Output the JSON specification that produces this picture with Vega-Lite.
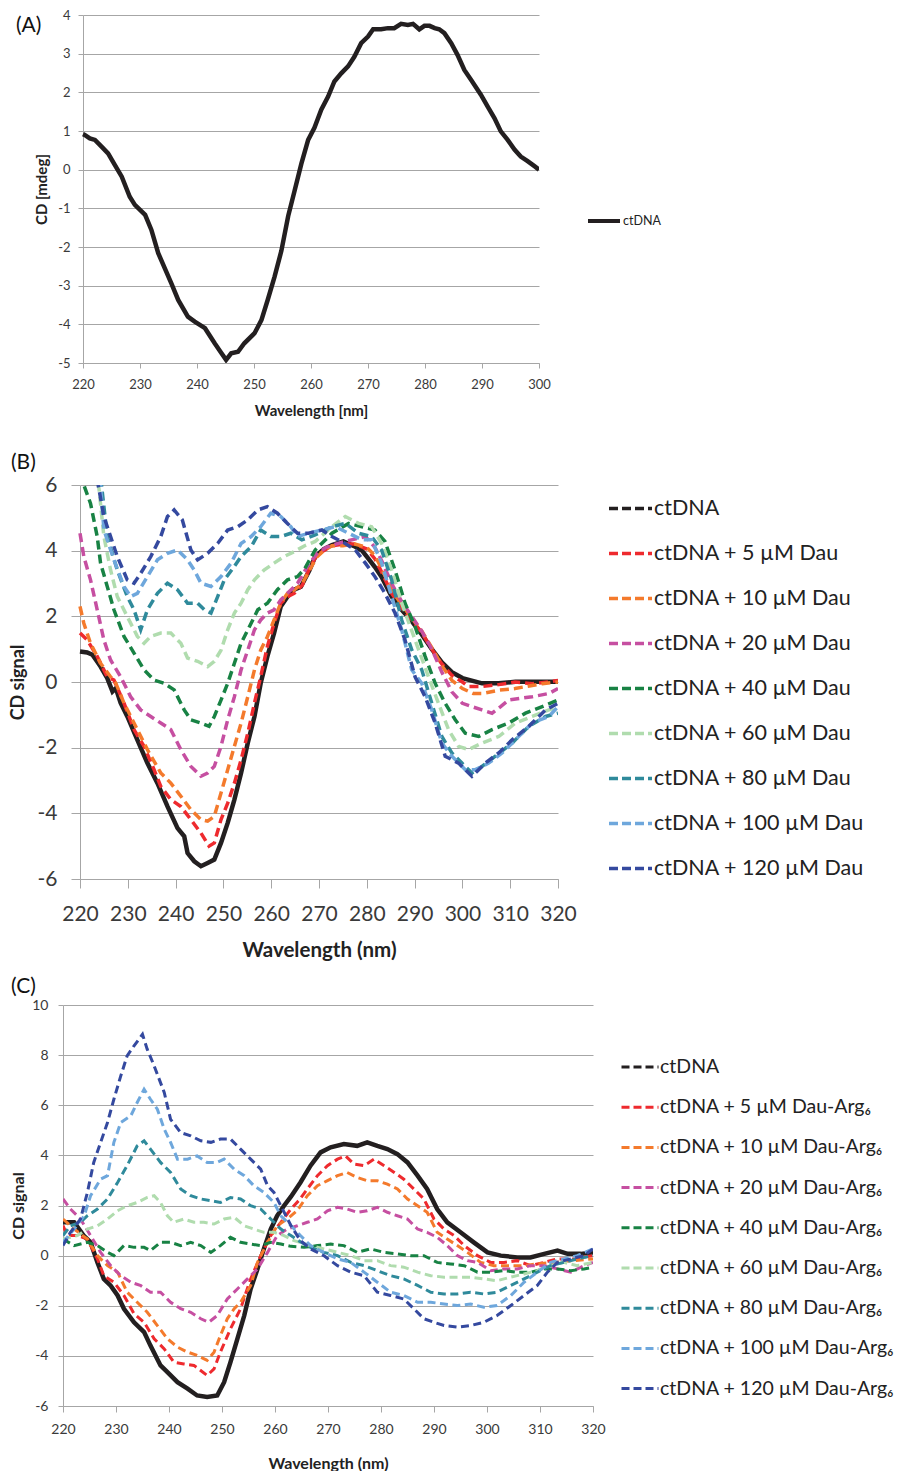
{
"$schema": "https://vega.github.io/schema/vega-lite/v6.json",
"padding": {"left": 9, "top": 9, "right": 0, "bottom": 0},
"background": "white",
"config": {
  "font": "Lato",
  "view": {"stroke": null},
  "axis": {"labelFont": "Lato", "titleFont": "Lato", "domainColor": "#a6a6a6", "tickColor": "#a6a6a6", "gridColor": "#a6a6a6", "labelColor": "#3a3a3a", "titleColor": "#222222", "titleFontWeight": "bold", "labelFlush": false, "labelOverlap": false, "labelExpr": "'' + datum.value"},
  "legend": {"labelFont": "Lato", "labelColor": "#222222"},
  "title": {"font": "Lato", "color": "#111111", "fontWeight": "normal"}
},
"datasets": {
"a": [
{"s":"ctDNA","x":220.0,"y":0.92},{"s":"ctDNA","x":220.3,"y":0.90},{"s":"ctDNA","x":221.2,"y":0.81},{"s":"ctDNA","x":222.1,"y":0.77},{"s":"ctDNA","x":223.3,"y":0.59},{"s":"ctDNA","x":224.4,"y":0.42},{"s":"ctDNA","x":225.6,"y":0.12},{"s":"ctDNA","x":226.8,"y":-0.18},{"s":"ctDNA","x":228.2,"y":-0.70},{"s":"ctDNA","x":229.1,"y":-0.91},{"s":"ctDNA","x":230.9,"y":-1.17},{"s":"ctDNA","x":232.0,"y":-1.56},{"s":"ctDNA","x":233.2,"y":-2.16},{"s":"ctDNA","x":235.5,"y":-2.94},{"s":"ctDNA","x":236.7,"y":-3.37},{"s":"ctDNA","x":238.4,"y":-3.80},{"s":"ctDNA","x":239.6,"y":-3.93},{"s":"ctDNA","x":241.4,"y":-4.10},{"s":"ctDNA","x":243.1,"y":-4.49},{"s":"ctDNA","x":244.3,"y":-4.75},{"s":"ctDNA","x":245.1,"y":-4.92},{"s":"ctDNA","x":246.0,"y":-4.75},{"s":"ctDNA","x":247.2,"y":-4.71},{"s":"ctDNA","x":248.3,"y":-4.49},{"s":"ctDNA","x":250.1,"y":-4.23},{"s":"ctDNA","x":251.3,"y":-3.89},{"s":"ctDNA","x":252.4,"y":-3.37},{"s":"ctDNA","x":253.6,"y":-2.77},{"s":"ctDNA","x":254.8,"y":-2.10},{"s":"ctDNA","x":256.0,"y":-1.20},{"s":"ctDNA","x":257.1,"y":-0.56},{"s":"ctDNA","x":258.3,"y":0.15},{"s":"ctDNA","x":259.5,"y":0.77},{"s":"ctDNA","x":260.6,"y":1.08},{"s":"ctDNA","x":261.8,"y":1.55},{"s":"ctDNA","x":263.0,"y":1.89},{"s":"ctDNA","x":264.1,"y":2.28},{"s":"ctDNA","x":265.3,"y":2.49},{"s":"ctDNA","x":266.5,"y":2.67},{"s":"ctDNA","x":267.6,"y":2.92},{"s":"ctDNA","x":268.8,"y":3.27},{"s":"ctDNA","x":270.0,"y":3.44},{"s":"ctDNA","x":270.9,"y":3.63},{"s":"ctDNA","x":272.3,"y":3.63},{"s":"ctDNA","x":273.5,"y":3.66},{"s":"ctDNA","x":274.6,"y":3.66},{"s":"ctDNA","x":275.8,"y":3.77},{"s":"ctDNA","x":277.0,"y":3.74},{"s":"ctDNA","x":277.9,"y":3.77},{"s":"ctDNA","x":279.0,"y":3.63},{"s":"ctDNA","x":279.9,"y":3.72},{"s":"ctDNA","x":280.8,"y":3.72},{"s":"ctDNA","x":281.7,"y":3.66},{"s":"ctDNA","x":282.5,"y":3.63},{"s":"ctDNA","x":283.4,"y":3.53},{"s":"ctDNA","x":284.6,"y":3.27},{"s":"ctDNA","x":285.7,"y":2.97},{"s":"ctDNA","x":286.9,"y":2.58},{"s":"ctDNA","x":288.1,"y":2.32},{"s":"ctDNA","x":289.8,"y":1.94},{"s":"ctDNA","x":291.0,"y":1.63},{"s":"ctDNA","x":292.2,"y":1.33},{"s":"ctDNA","x":293.3,"y":0.99},{"s":"ctDNA","x":294.5,"y":0.77},{"s":"ctDNA","x":295.7,"y":0.52},{"s":"ctDNA","x":296.8,"y":0.34},{"s":"ctDNA","x":298.0,"y":0.22},{"s":"ctDNA","x":299.2,"y":0.09},{"s":"ctDNA","x":300.0,"y":0.0}
],
"b": [
{"s":"ctDNA","x":220,"y":0.93},{"s":"ctDNA","x":221.5,"y":0.90},{"s":"ctDNA","x":222.6,"y":0.83},{"s":"ctDNA","x":224.3,"y":0.47},{"s":"ctDNA","x":225.7,"y":0.12},{"s":"ctDNA","x":226.8,"y":-0.29},{"s":"ctDNA","x":227.5,"y":-0.19},{"s":"ctDNA","x":228.5,"y":-0.64},{"s":"ctDNA","x":229.9,"y":-1.05},{"s":"ctDNA","x":232.0,"y":-1.76},{"s":"ctDNA","x":234.1,"y":-2.47},{"s":"ctDNA","x":236.2,"y":-3.08},{"s":"ctDNA","x":238.3,"y":-3.79},{"s":"ctDNA","x":240.4,"y":-4.45},{"s":"ctDNA","x":241.8,"y":-4.70},{"s":"ctDNA","x":242.5,"y":-5.21},{"s":"ctDNA","x":243.9,"y":-5.46},{"s":"ctDNA","x":245.3,"y":-5.61},{"s":"ctDNA","x":246.7,"y":-5.51},{"s":"ctDNA","x":248.1,"y":-5.41},{"s":"ctDNA","x":249.5,"y":-4.90},{"s":"ctDNA","x":250.9,"y":-4.29},{"s":"ctDNA","x":252.3,"y":-3.58},{"s":"ctDNA","x":253.7,"y":-2.77},{"s":"ctDNA","x":255.1,"y":-1.86},{"s":"ctDNA","x":256.5,"y":-1.05},{"s":"ctDNA","x":257.8,"y":-0.04},{"s":"ctDNA","x":259.2,"y":0.78},{"s":"ctDNA","x":260.6,"y":1.49},{"s":"ctDNA","x":262.0,"y":2.30},{"s":"ctDNA","x":263.4,"y":2.60},{"s":"ctDNA","x":264.8,"y":2.81},{"s":"ctDNA","x":266.2,"y":2.90},{"s":"ctDNA","x":268.0,"y":3.40},{"s":"ctDNA","x":269.2,"y":3.82},{"s":"ctDNA","x":271.0,"y":4.05},{"s":"ctDNA","x":272.7,"y":4.17},{"s":"ctDNA","x":275.1,"y":4.28},{"s":"ctDNA","x":277.6,"y":4.12},{"s":"ctDNA","x":279.0,"y":4.00},{"s":"ctDNA","x":280.0,"y":3.82},{"s":"ctDNA","x":281.7,"y":3.50},{"s":"ctDNA","x":283.1,"y":3.20},{"s":"ctDNA","x":285.2,"y":2.60},{"s":"ctDNA","x":287.3,"y":2.20},{"s":"ctDNA","x":289.4,"y":1.85},{"s":"ctDNA","x":291.5,"y":1.45},{"s":"ctDNA","x":293.6,"y":1.00},{"s":"ctDNA","x":295.7,"y":0.60},{"s":"ctDNA","x":297.8,"y":0.30},{"s":"ctDNA","x":300.0,"y":0.12},{"s":"ctDNA","x":304.1,"y":-0.04},{"s":"ctDNA","x":307.6,"y":-0.04},{"s":"ctDNA","x":311.1,"y":0.01},{"s":"ctDNA","x":314.6,"y":0.01},{"s":"ctDNA","x":318.1,"y":0.01},{"s":"ctDNA","x":320,"y":0.01},
{"s":"5","x":220,"y":1.49},{"s":"5","x":221.5,"y":1.28},{"s":"5","x":223.6,"y":0.78},{"s":"5","x":225.7,"y":0.16},{"s":"5","x":227.1,"y":0.06},{"s":"5","x":229.2,"y":-0.64},{"s":"5","x":231.3,"y":-1.45},{"s":"5","x":233.4,"y":-1.96},{"s":"5","x":235.5,"y":-2.67},{"s":"5","x":236.9,"y":-3.18},{"s":"5","x":239.0,"y":-3.58},{"s":"5","x":241.1,"y":-3.79},{"s":"5","x":243.2,"y":-4.19},{"s":"5","x":245.3,"y":-4.60},{"s":"5","x":247.0,"y":-5.00},{"s":"5","x":248.1,"y":-4.90},{"s":"5","x":249.5,"y":-4.19},{"s":"5","x":250.9,"y":-3.69},{"s":"5","x":252.3,"y":-3.08},{"s":"5","x":253.7,"y":-2.37},{"s":"5","x":255.1,"y":-1.56},{"s":"5","x":256.5,"y":-0.64},{"s":"5","x":257.8,"y":0.16},{"s":"5","x":259.2,"y":1.08},{"s":"5","x":260.6,"y":1.79},{"s":"5","x":262.0,"y":2.40},{"s":"5","x":263.4,"y":2.60},{"s":"5","x":264.8,"y":2.70},{"s":"5","x":266.5,"y":2.95},{"s":"5","x":268.0,"y":3.45},{"s":"5","x":269.5,"y":3.85},{"s":"5","x":271.0,"y":4.00},{"s":"5","x":272.7,"y":4.15},{"s":"5","x":275.0,"y":4.20},{"s":"5","x":277.5,"y":4.20},{"s":"5","x":280.0,"y":4.05},{"s":"5","x":281.7,"y":3.75},{"s":"5","x":283.1,"y":3.35},{"s":"5","x":285.2,"y":2.70},{"s":"5","x":287.3,"y":2.25},{"s":"5","x":289.4,"y":1.90},{"s":"5","x":291.5,"y":1.50},{"s":"5","x":293.6,"y":1.00},{"s":"5","x":295.7,"y":0.55},{"s":"5","x":297.8,"y":0.20},{"s":"5","x":300.0,"y":0.00},{"s":"5","x":301.3,"y":-0.14},{"s":"5","x":304.0,"y":-0.14},{"s":"5","x":307.6,"y":-0.08},{"s":"5","x":311.0,"y":0.00},{"s":"5","x":314.6,"y":-0.05},{"s":"5","x":318.0,"y":0.00},{"s":"5","x":320,"y":0.05},
{"s":"10","x":220,"y":2.30},{"s":"10","x":220.8,"y":1.79},{"s":"10","x":222.2,"y":1.18},{"s":"10","x":224.3,"y":0.57},{"s":"10","x":226.4,"y":0.16},{"s":"10","x":227.5,"y":-0.04},{"s":"10","x":229.2,"y":-0.64},{"s":"10","x":231.3,"y":-1.25},{"s":"10","x":234.1,"y":-2.06},{"s":"10","x":236.9,"y":-2.77},{"s":"10","x":239.0,"y":-3.08},{"s":"10","x":241.1,"y":-3.48},{"s":"10","x":243.2,"y":-3.89},{"s":"10","x":245.3,"y":-4.19},{"s":"10","x":246.7,"y":-4.24},{"s":"10","x":248.1,"y":-4.09},{"s":"10","x":249.5,"y":-3.38},{"s":"10","x":250.9,"y":-2.67},{"s":"10","x":252.3,"y":-1.96},{"s":"10","x":253.7,"y":-1.25},{"s":"10","x":255.1,"y":-0.45},{"s":"10","x":256.5,"y":0.37},{"s":"10","x":257.8,"y":0.97},{"s":"10","x":259.2,"y":1.38},{"s":"10","x":260.6,"y":1.89},{"s":"10","x":262.0,"y":2.40},{"s":"10","x":263.4,"y":2.70},{"s":"10","x":264.8,"y":2.80},{"s":"10","x":266.5,"y":3.00},{"s":"10","x":268.0,"y":3.40},{"s":"10","x":269.5,"y":3.80},{"s":"10","x":271.0,"y":4.00},{"s":"10","x":272.7,"y":4.15},{"s":"10","x":275.0,"y":4.15},{"s":"10","x":277.5,"y":4.20},{"s":"10","x":280.0,"y":4.10},{"s":"10","x":281.7,"y":3.85},{"s":"10","x":283.1,"y":3.45},{"s":"10","x":285.2,"y":2.80},{"s":"10","x":287.3,"y":2.35},{"s":"10","x":289.4,"y":1.95},{"s":"10","x":291.5,"y":1.55},{"s":"10","x":293.6,"y":1.05},{"s":"10","x":295.7,"y":0.50},{"s":"10","x":297.8,"y":0.05},{"s":"10","x":300.0,"y":-0.20},{"s":"10","x":302.3,"y":-0.35},{"s":"10","x":304.2,"y":-0.35},{"s":"10","x":307.6,"y":-0.25},{"s":"10","x":311.0,"y":-0.20},{"s":"10","x":314.0,"y":-0.12},{"s":"10","x":316.7,"y":-0.05},{"s":"10","x":320,"y":0.00},
{"s":"20","x":220,"y":4.53},{"s":"20","x":220.8,"y":3.82},{"s":"20","x":222.2,"y":3.11},{"s":"20","x":223.6,"y":2.20},{"s":"20","x":225.0,"y":1.28},{"s":"20","x":226.4,"y":0.67},{"s":"20","x":228.5,"y":0.16},{"s":"20","x":230.6,"y":-0.45},{"s":"20","x":232.7,"y":-0.85},{"s":"20","x":234.8,"y":-1.05},{"s":"20","x":236.9,"y":-1.25},{"s":"20","x":239.0,"y":-1.45},{"s":"20","x":241.1,"y":-2.06},{"s":"20","x":243.2,"y":-2.57},{"s":"20","x":245.3,"y":-2.87},{"s":"20","x":246.7,"y":-2.77},{"s":"20","x":248.1,"y":-2.57},{"s":"20","x":249.5,"y":-1.96},{"s":"20","x":250.9,"y":-1.15},{"s":"20","x":252.3,"y":-0.45},{"s":"20","x":253.7,"y":0.37},{"s":"20","x":255.1,"y":0.97},{"s":"20","x":256.5,"y":1.59},{"s":"20","x":257.8,"y":1.89},{"s":"20","x":259.2,"y":2.10},{"s":"20","x":260.6,"y":2.20},{"s":"20","x":262.0,"y":2.50},{"s":"20","x":263.4,"y":2.70},{"s":"20","x":265.5,"y":3.00},{"s":"20","x":267.5,"y":3.50},{"s":"20","x":269.5,"y":3.90},{"s":"20","x":271.5,"y":4.10},{"s":"20","x":273.5,"y":4.20},{"s":"20","x":276.0,"y":4.30},{"s":"20","x":279.7,"y":4.43},{"s":"20","x":281.7,"y":4.10},{"s":"20","x":283.1,"y":3.70},{"s":"20","x":285.2,"y":3.00},{"s":"20","x":287.3,"y":2.45},{"s":"20","x":289.4,"y":2.00},{"s":"20","x":291.5,"y":1.55},{"s":"20","x":293.6,"y":1.00},{"s":"20","x":295.7,"y":0.30},{"s":"20","x":297.8,"y":-0.30},{"s":"20","x":300.0,"y":-0.65},{"s":"20","x":302.0,"y":-0.75},{"s":"20","x":304.1,"y":-0.85},{"s":"20","x":306.2,"y":-0.95},{"s":"20","x":308.0,"y":-0.75},{"s":"20","x":309.7,"y":-0.55},{"s":"20","x":312.0,"y":-0.50},{"s":"20","x":314.6,"y":-0.45},{"s":"20","x":318.1,"y":-0.35},{"s":"20","x":320,"y":-0.20},
{"s":"40","x":220,"y":6.8},{"s":"40","x":220.8,"y":6.0},{"s":"40","x":222.2,"y":5.44},{"s":"40","x":223.6,"y":4.43},{"s":"40","x":224.3,"y":3.62},{"s":"40","x":225.7,"y":2.91},{"s":"40","x":227.1,"y":2.20},{"s":"40","x":229.2,"y":1.39},{"s":"40","x":231.3,"y":0.88},{"s":"40","x":233.4,"y":0.37},{"s":"40","x":235.5,"y":0.06},{"s":"40","x":237.6,"y":-0.04},{"s":"40","x":239.7,"y":-0.24},{"s":"40","x":241.8,"y":-0.85},{"s":"40","x":243.2,"y":-1.15},{"s":"40","x":245.3,"y":-1.25},{"s":"40","x":247.0,"y":-1.35},{"s":"40","x":248.1,"y":-1.05},{"s":"40","x":249.5,"y":-0.55},{"s":"40","x":250.9,"y":-0.04},{"s":"40","x":252.3,"y":0.57},{"s":"40","x":253.7,"y":1.18},{"s":"40","x":255.8,"y":1.79},{"s":"40","x":257.2,"y":2.20},{"s":"40","x":259.2,"y":2.40},{"s":"40","x":261.3,"y":2.81},{"s":"40","x":263.4,"y":3.11},{"s":"40","x":265.5,"y":3.21},{"s":"40","x":267.0,"y":3.45},{"s":"40","x":269.2,"y":4.02},{"s":"40","x":272.7,"y":4.53},{"s":"40","x":276.2,"y":4.83},{"s":"40","x":279.0,"y":4.73},{"s":"40","x":281.7,"y":4.63},{"s":"40","x":283.8,"y":4.28},{"s":"40","x":285.9,"y":3.41},{"s":"40","x":288.0,"y":2.40},{"s":"40","x":290.1,"y":1.69},{"s":"40","x":292.2,"y":0.78},{"s":"40","x":294.3,"y":-0.04},{"s":"40","x":296.4,"y":-0.65},{"s":"40","x":298.5,"y":-1.15},{"s":"40","x":300.6,"y":-1.56},{"s":"40","x":303.4,"y":-1.66},{"s":"40","x":306.2,"y":-1.45},{"s":"40","x":309.7,"y":-1.25},{"s":"40","x":313.2,"y":-0.95},{"s":"40","x":316.7,"y":-0.75},{"s":"40","x":320,"y":-0.55},
{"s":"60","x":220,"y":9.0},{"s":"60","x":223.0,"y":7.0},{"s":"60","x":224.0,"y":5.85},{"s":"60","x":225.0,"y":4.43},{"s":"60","x":226.4,"y":3.41},{"s":"60","x":227.8,"y":2.60},{"s":"60","x":229.9,"y":1.99},{"s":"60","x":232.0,"y":1.39},{"s":"60","x":233.4,"y":1.18},{"s":"60","x":234.8,"y":1.39},{"s":"60","x":236.9,"y":1.49},{"s":"60","x":239.0,"y":1.49},{"s":"60","x":241.1,"y":1.18},{"s":"60","x":242.5,"y":0.73},{"s":"60","x":244.6,"y":0.63},{"s":"60","x":246.7,"y":0.47},{"s":"60","x":248.1,"y":0.63},{"s":"60","x":249.5,"y":0.97},{"s":"60","x":250.9,"y":1.59},{"s":"60","x":252.3,"y":2.10},{"s":"60","x":253.7,"y":2.40},{"s":"60","x":255.1,"y":2.81},{"s":"60","x":256.5,"y":3.11},{"s":"60","x":258.5,"y":3.41},{"s":"60","x":260.6,"y":3.62},{"s":"60","x":262.7,"y":3.82},{"s":"60","x":264.8,"y":3.97},{"s":"60","x":267.0,"y":4.15},{"s":"60","x":269.2,"y":4.28},{"s":"60","x":272.7,"y":4.73},{"s":"60","x":275.5,"y":5.04},{"s":"60","x":278.3,"y":4.83},{"s":"60","x":281.0,"y":4.73},{"s":"60","x":283.1,"y":4.22},{"s":"60","x":285.2,"y":3.41},{"s":"60","x":287.3,"y":2.40},{"s":"60","x":290.1,"y":1.28},{"s":"60","x":292.9,"y":0.16},{"s":"60","x":295.0,"y":-0.65},{"s":"60","x":297.1,"y":-1.45},{"s":"60","x":299.2,"y":-1.96},{"s":"60","x":301.3,"y":-2.06},{"s":"60","x":304.1,"y":-1.86},{"s":"60","x":307.6,"y":-1.66},{"s":"60","x":311.1,"y":-1.25},{"s":"60","x":314.6,"y":-1.05},{"s":"60","x":318.1,"y":-0.85},{"s":"60","x":320,"y":-0.75},
{"s":"80","x":220,"y":10.0},{"s":"80","x":223.5,"y":7.5},{"s":"80","x":224.5,"y":6.0},{"s":"80","x":225.7,"y":4.43},{"s":"80","x":227.8,"y":3.41},{"s":"80","x":229.9,"y":2.60},{"s":"80","x":231.3,"y":2.20},{"s":"80","x":232.7,"y":1.59},{"s":"80","x":234.1,"y":2.20},{"s":"80","x":236.2,"y":2.70},{"s":"80","x":238.3,"y":3.01},{"s":"80","x":240.4,"y":2.81},{"s":"80","x":242.5,"y":2.40},{"s":"80","x":244.6,"y":2.40},{"s":"80","x":246.0,"y":2.20},{"s":"80","x":247.4,"y":2.10},{"s":"80","x":248.8,"y":2.60},{"s":"80","x":250.2,"y":3.11},{"s":"80","x":252.3,"y":3.52},{"s":"80","x":253.7,"y":3.82},{"s":"80","x":255.8,"y":4.12},{"s":"80","x":257.8,"y":4.63},{"s":"80","x":259.9,"y":4.43},{"s":"80","x":262.0,"y":4.43},{"s":"80","x":264.1,"y":4.53},{"s":"80","x":266.4,"y":4.33},{"s":"80","x":269.2,"y":4.48},{"s":"80","x":272.7,"y":4.73},{"s":"80","x":275.5,"y":4.83},{"s":"80","x":278.3,"y":4.53},{"s":"80","x":281.0,"y":4.43},{"s":"80","x":283.1,"y":4.02},{"s":"80","x":285.2,"y":3.11},{"s":"80","x":287.3,"y":1.89},{"s":"80","x":289.4,"y":0.98},{"s":"80","x":291.5,"y":0.37},{"s":"80","x":293.6,"y":-0.65},{"s":"80","x":295.7,"y":-1.66},{"s":"80","x":297.8,"y":-2.16},{"s":"80","x":299.9,"y":-2.47},{"s":"80","x":302.0,"y":-2.77},{"s":"80","x":304.1,"y":-2.57},{"s":"80","x":306.9,"y":-2.26},{"s":"80","x":310.4,"y":-1.86},{"s":"80","x":313.9,"y":-1.35},{"s":"80","x":317.4,"y":-1.05},{"s":"80","x":320,"y":-0.95},
{"s":"100","x":220,"y":10.0},{"s":"100","x":223.5,"y":7.5},{"s":"100","x":224.3,"y":6.0},{"s":"100","x":225.0,"y":4.63},{"s":"100","x":227.1,"y":3.72},{"s":"100","x":229.2,"y":2.91},{"s":"100","x":230.6,"y":2.60},{"s":"100","x":232.0,"y":2.70},{"s":"100","x":234.1,"y":3.21},{"s":"100","x":236.2,"y":3.72},{"s":"100","x":238.3,"y":3.92},{"s":"100","x":240.4,"y":4.02},{"s":"100","x":242.5,"y":3.72},{"s":"100","x":243.9,"y":3.41},{"s":"100","x":245.3,"y":3.01},{"s":"100","x":247.4,"y":2.91},{"s":"100","x":249.5,"y":3.21},{"s":"100","x":251.6,"y":3.62},{"s":"100","x":253.7,"y":4.22},{"s":"100","x":255.8,"y":4.43},{"s":"100","x":257.8,"y":4.73},{"s":"100","x":259.9,"y":5.14},{"s":"100","x":262.0,"y":5.04},{"s":"100","x":264.1,"y":4.73},{"s":"100","x":265.5,"y":4.43},{"s":"100","x":267.8,"y":4.53},{"s":"100","x":270.6,"y":4.63},{"s":"100","x":273.4,"y":4.73},{"s":"100","x":276.2,"y":4.53},{"s":"100","x":279.0,"y":4.33},{"s":"100","x":281.0,"y":4.33},{"s":"100","x":283.1,"y":3.62},{"s":"100","x":285.2,"y":2.60},{"s":"100","x":287.3,"y":1.59},{"s":"100","x":289.4,"y":0.37},{"s":"100","x":291.5,"y":-0.04},{"s":"100","x":293.6,"y":-0.85},{"s":"100","x":295.7,"y":-1.86},{"s":"100","x":297.8,"y":-2.26},{"s":"100","x":300.6,"y":-2.67},{"s":"100","x":302.7,"y":-2.67},{"s":"100","x":305.5,"y":-2.47},{"s":"100","x":308.3,"y":-2.16},{"s":"100","x":311.1,"y":-1.76},{"s":"100","x":314.6,"y":-1.25},{"s":"100","x":318.1,"y":-1.05},{"s":"100","x":320,"y":-0.75},
{"s":"120","x":220,"y":10.0},{"s":"120","x":223.0,"y":7.2},{"s":"120","x":223.8,"y":6.0},{"s":"120","x":225.0,"y":5.04},{"s":"120","x":226.4,"y":4.43},{"s":"120","x":227.8,"y":3.82},{"s":"120","x":229.9,"y":3.11},{"s":"120","x":231.3,"y":3.01},{"s":"120","x":232.7,"y":3.31},{"s":"120","x":234.8,"y":3.82},{"s":"120","x":236.9,"y":4.43},{"s":"120","x":238.3,"y":5.04},{"s":"120","x":239.7,"y":5.24},{"s":"120","x":241.4,"y":4.94},{"s":"120","x":243.2,"y":4.02},{"s":"120","x":244.6,"y":3.72},{"s":"120","x":246.7,"y":3.92},{"s":"120","x":248.8,"y":4.22},{"s":"120","x":250.9,"y":4.63},{"s":"120","x":253.0,"y":4.73},{"s":"120","x":255.1,"y":4.94},{"s":"120","x":257.2,"y":5.24},{"s":"120","x":259.2,"y":5.34},{"s":"120","x":261.3,"y":5.14},{"s":"120","x":263.4,"y":4.83},{"s":"120","x":265.5,"y":4.53},{"s":"120","x":267.8,"y":4.53},{"s":"120","x":270.6,"y":4.63},{"s":"120","x":272.7,"y":4.43},{"s":"120","x":275.5,"y":4.22},{"s":"120","x":277.6,"y":4.02},{"s":"120","x":279.7,"y":3.62},{"s":"120","x":281.7,"y":3.21},{"s":"120","x":283.8,"y":2.70},{"s":"120","x":285.9,"y":2.10},{"s":"120","x":288.0,"y":1.28},{"s":"120","x":290.1,"y":0.16},{"s":"120","x":292.2,"y":-0.45},{"s":"120","x":294.3,"y":-1.25},{"s":"120","x":296.4,"y":-2.26},{"s":"120","x":299.2,"y":-2.47},{"s":"120","x":302.0,"y":-2.87},{"s":"120","x":304.8,"y":-2.47},{"s":"120","x":307.6,"y":-2.16},{"s":"120","x":310.4,"y":-1.76},{"s":"120","x":313.9,"y":-1.35},{"s":"120","x":317.4,"y":-0.85},{"s":"120","x":320,"y":-0.65}
],
"c": [
{"s":"ctDNA","x":220,"y":1.33},{"s":"ctDNA","x":222.1,"y":1.33},{"s":"ctDNA","x":223.9,"y":0.80},{"s":"ctDNA","x":225.2,"y":0.53},{"s":"ctDNA","x":226.5,"y":-0.27},{"s":"ctDNA","x":227.7,"y":-0.93},{"s":"ctDNA","x":229.0,"y":-1.20},{"s":"ctDNA","x":230.3,"y":-1.59},{"s":"ctDNA","x":231.5,"y":-2.12},{"s":"ctDNA","x":233.4,"y":-2.66},{"s":"ctDNA","x":235.3,"y":-3.05},{"s":"ctDNA","x":236.5,"y":-3.59},{"s":"ctDNA","x":238.4,"y":-4.38},{"s":"ctDNA","x":239.7,"y":-4.65},{"s":"ctDNA","x":241.6,"y":-5.05},{"s":"ctDNA","x":243.5,"y":-5.31},{"s":"ctDNA","x":245.3,"y":-5.58},{"s":"ctDNA","x":247.2,"y":-5.64},{"s":"ctDNA","x":249.1,"y":-5.58},{"s":"ctDNA","x":250.4,"y":-5.05},{"s":"ctDNA","x":251.6,"y":-4.25},{"s":"ctDNA","x":252.9,"y":-3.32},{"s":"ctDNA","x":254.2,"y":-2.39},{"s":"ctDNA","x":255.4,"y":-1.33},{"s":"ctDNA","x":256.7,"y":-0.53},{"s":"ctDNA","x":257.9,"y":0.27},{"s":"ctDNA","x":259.2,"y":1.06},{"s":"ctDNA","x":260.4,"y":1.59},{"s":"ctDNA","x":261.7,"y":1.99},{"s":"ctDNA","x":263.0,"y":2.35},{"s":"ctDNA","x":264.8,"y":2.92},{"s":"ctDNA","x":266.7,"y":3.59},{"s":"ctDNA","x":268.6,"y":4.12},{"s":"ctDNA","x":270.5,"y":4.32},{"s":"ctDNA","x":273.0,"y":4.45},{"s":"ctDNA","x":275.5,"y":4.38},{"s":"ctDNA","x":277.4,"y":4.52},{"s":"ctDNA","x":279.3,"y":4.38},{"s":"ctDNA","x":281.2,"y":4.25},{"s":"ctDNA","x":283.1,"y":4.05},{"s":"ctDNA","x":285.0,"y":3.72},{"s":"ctDNA","x":286.9,"y":3.19},{"s":"ctDNA","x":288.7,"y":2.66},{"s":"ctDNA","x":290.6,"y":1.86},{"s":"ctDNA","x":292.5,"y":1.33},{"s":"ctDNA","x":295.0,"y":0.93},{"s":"ctDNA","x":297.5,"y":0.53},{"s":"ctDNA","x":300.1,"y":0.13},{"s":"ctDNA","x":302.6,"y":0.00},{"s":"ctDNA","x":305.7,"y":-0.07},{"s":"ctDNA","x":308.2,"y":-0.07},{"s":"ctDNA","x":310.8,"y":0.07},{"s":"ctDNA","x":313.3,"y":0.20},{"s":"ctDNA","x":315.2,"y":0.07},{"s":"ctDNA","x":317.7,"y":0.07},{"s":"ctDNA","x":320,"y":0.13},
{"s":"5","x":220,"y":1.20},{"s":"5","x":220.8,"y":0.80},{"s":"5","x":222.7,"y":0.80},{"s":"5","x":224.6,"y":0.66},{"s":"5","x":226.5,"y":-0.13},{"s":"5","x":227.7,"y":-0.80},{"s":"5","x":229.6,"y":-1.06},{"s":"5","x":231.5,"y":-1.59},{"s":"5","x":233.4,"y":-2.32},{"s":"5","x":235.3,"y":-2.66},{"s":"5","x":237.2,"y":-3.32},{"s":"5","x":239.1,"y":-3.72},{"s":"5","x":240.9,"y":-4.25},{"s":"5","x":242.8,"y":-4.32},{"s":"5","x":244.7,"y":-4.38},{"s":"5","x":247.2,"y":-4.78},{"s":"5","x":248.5,"y":-4.52},{"s":"5","x":249.7,"y":-3.85},{"s":"5","x":251.6,"y":-2.92},{"s":"5","x":253.5,"y":-2.12},{"s":"5","x":255.4,"y":-0.93},{"s":"5","x":257.3,"y":0.00},{"s":"5","x":259.2,"y":0.80},{"s":"5","x":261.1,"y":1.33},{"s":"5","x":263.0,"y":1.86},{"s":"5","x":264.5,"y":2.20},{"s":"5","x":266.1,"y":2.66},{"s":"5","x":268.0,"y":3.19},{"s":"5","x":269.9,"y":3.59},{"s":"5","x":271.8,"y":3.85},{"s":"5","x":273.3,"y":3.98},{"s":"5","x":274.9,"y":3.65},{"s":"5","x":276.8,"y":3.59},{"s":"5","x":278.7,"y":3.85},{"s":"5","x":280.6,"y":3.59},{"s":"5","x":282.5,"y":3.32},{"s":"5","x":284.3,"y":3.05},{"s":"5","x":286.2,"y":2.66},{"s":"5","x":288.1,"y":2.26},{"s":"5","x":290.0,"y":1.46},{"s":"5","x":291.9,"y":1.06},{"s":"5","x":293.8,"y":0.80},{"s":"5","x":295.7,"y":0.40},{"s":"5","x":298.2,"y":0.00},{"s":"5","x":300.7,"y":-0.27},{"s":"5","x":303.2,"y":-0.27},{"s":"5","x":305.7,"y":-0.20},{"s":"5","x":308.2,"y":-0.40},{"s":"5","x":310.8,"y":-0.27},{"s":"5","x":313.3,"y":-0.13},{"s":"5","x":316.4,"y":-0.13},{"s":"5","x":320,"y":0.00},
{"s":"10","x":220,"y":1.46},{"s":"10","x":222.1,"y":1.06},{"s":"10","x":224.6,"y":0.66},{"s":"10","x":226.5,"y":0.00},{"s":"10","x":228.4,"y":-0.40},{"s":"10","x":230.3,"y":-0.66},{"s":"10","x":232.1,"y":-1.46},{"s":"10","x":234.0,"y":-1.86},{"s":"10","x":235.9,"y":-2.26},{"s":"10","x":237.8,"y":-2.79},{"s":"10","x":239.7,"y":-3.32},{"s":"10","x":241.6,"y":-3.65},{"s":"10","x":243.5,"y":-3.85},{"s":"10","x":245.3,"y":-3.98},{"s":"10","x":247.2,"y":-4.18},{"s":"10","x":248.5,"y":-3.85},{"s":"10","x":249.7,"y":-3.19},{"s":"10","x":251.0,"y":-2.52},{"s":"10","x":252.3,"y":-2.12},{"s":"10","x":253.5,"y":-1.86},{"s":"10","x":255.4,"y":-1.20},{"s":"10","x":256.7,"y":-0.27},{"s":"10","x":258.6,"y":0.53},{"s":"10","x":260.4,"y":1.19},{"s":"10","x":262.3,"y":1.46},{"s":"10","x":264.2,"y":1.80},{"s":"10","x":266.1,"y":2.39},{"s":"10","x":268.0,"y":2.79},{"s":"10","x":269.9,"y":2.99},{"s":"10","x":271.8,"y":3.19},{"s":"10","x":273.6,"y":3.32},{"s":"10","x":275.5,"y":3.12},{"s":"10","x":277.4,"y":2.99},{"s":"10","x":279.3,"y":2.99},{"s":"10","x":281.2,"y":2.85},{"s":"10","x":283.1,"y":2.66},{"s":"10","x":285.0,"y":2.26},{"s":"10","x":286.9,"y":1.99},{"s":"10","x":288.7,"y":1.73},{"s":"10","x":290.6,"y":0.93},{"s":"10","x":292.5,"y":0.66},{"s":"10","x":294.4,"y":0.40},{"s":"10","x":296.3,"y":0.13},{"s":"10","x":298.8,"y":-0.27},{"s":"10","x":301.3,"y":-0.40},{"s":"10","x":303.8,"y":-0.40},{"s":"10","x":307.0,"y":-0.40},{"s":"10","x":309.5,"y":-0.33},{"s":"10","x":312.6,"y":-0.27},{"s":"10","x":316.4,"y":-0.20},{"s":"10","x":320,"y":-0.13},
{"s":"20","x":220,"y":2.26},{"s":"20","x":221.4,"y":1.86},{"s":"20","x":223.3,"y":1.46},{"s":"20","x":225.2,"y":0.80},{"s":"20","x":227.1,"y":0.13},{"s":"20","x":229.0,"y":-0.40},{"s":"20","x":230.9,"y":-0.80},{"s":"20","x":232.8,"y":-1.06},{"s":"20","x":234.7,"y":-1.20},{"s":"20","x":236.5,"y":-1.46},{"s":"20","x":238.4,"y":-1.46},{"s":"20","x":240.3,"y":-1.86},{"s":"20","x":242.2,"y":-2.12},{"s":"20","x":244.1,"y":-2.26},{"s":"20","x":246.0,"y":-2.52},{"s":"20","x":247.5,"y":-2.66},{"s":"20","x":249.1,"y":-2.39},{"s":"20","x":251.0,"y":-1.73},{"s":"20","x":252.9,"y":-1.33},{"s":"20","x":254.8,"y":-0.93},{"s":"20","x":256.7,"y":-0.53},{"s":"20","x":258.6,"y":0.13},{"s":"20","x":260.4,"y":0.80},{"s":"20","x":262.3,"y":1.06},{"s":"20","x":264.2,"y":1.19},{"s":"20","x":266.1,"y":1.33},{"s":"20","x":268.0,"y":1.46},{"s":"20","x":269.9,"y":1.79},{"s":"20","x":271.8,"y":1.93},{"s":"20","x":273.6,"y":1.86},{"s":"20","x":275.5,"y":1.73},{"s":"20","x":277.4,"y":1.79},{"s":"20","x":279.3,"y":1.93},{"s":"20","x":281.2,"y":1.73},{"s":"20","x":283.1,"y":1.59},{"s":"20","x":285.0,"y":1.46},{"s":"20","x":286.9,"y":1.06},{"s":"20","x":288.7,"y":0.93},{"s":"20","x":290.6,"y":0.73},{"s":"20","x":292.5,"y":0.40},{"s":"20","x":294.4,"y":0.00},{"s":"20","x":296.3,"y":-0.20},{"s":"20","x":298.2,"y":-0.27},{"s":"20","x":300.7,"y":-0.60},{"s":"20","x":303.2,"y":-0.53},{"s":"20","x":305.7,"y":-0.53},{"s":"20","x":308.2,"y":-0.40},{"s":"20","x":310.8,"y":-0.40},{"s":"20","x":313.3,"y":-0.53},{"s":"20","x":315.8,"y":-0.66},{"s":"20","x":318.3,"y":-0.40},{"s":"20","x":320,"y":-0.27},
{"s":"40","x":220,"y":0.66},{"s":"40","x":222.1,"y":0.40},{"s":"40","x":224.6,"y":0.53},{"s":"40","x":226.5,"y":0.40},{"s":"40","x":228.4,"y":0.13},{"s":"40","x":229.6,"y":0.00},{"s":"40","x":231.5,"y":0.40},{"s":"40","x":233.4,"y":0.33},{"s":"40","x":235.3,"y":0.33},{"s":"40","x":236.5,"y":0.20},{"s":"40","x":238.4,"y":0.53},{"s":"40","x":240.3,"y":0.53},{"s":"40","x":242.2,"y":0.40},{"s":"40","x":244.1,"y":0.53},{"s":"40","x":246.0,"y":0.40},{"s":"40","x":247.9,"y":0.13},{"s":"40","x":249.7,"y":0.40},{"s":"40","x":251.6,"y":0.73},{"s":"40","x":253.5,"y":0.53},{"s":"40","x":255.4,"y":0.46},{"s":"40","x":257.3,"y":0.40},{"s":"40","x":259.2,"y":0.53},{"s":"40","x":261.1,"y":0.46},{"s":"40","x":263.0,"y":0.37},{"s":"40","x":265.5,"y":0.33},{"s":"40","x":268.0,"y":0.40},{"s":"40","x":270.5,"y":0.46},{"s":"40","x":273.0,"y":0.40},{"s":"40","x":275.5,"y":0.13},{"s":"40","x":278.0,"y":0.27},{"s":"40","x":280.6,"y":0.13},{"s":"40","x":283.1,"y":0.07},{"s":"40","x":285.6,"y":0.00},{"s":"40","x":288.1,"y":0.00},{"s":"40","x":290.6,"y":-0.27},{"s":"40","x":293.1,"y":-0.33},{"s":"40","x":295.7,"y":-0.40},{"s":"40","x":298.2,"y":-0.66},{"s":"40","x":300.7,"y":-0.66},{"s":"40","x":303.2,"y":-0.60},{"s":"40","x":305.7,"y":-0.66},{"s":"40","x":308.2,"y":-0.66},{"s":"40","x":310.8,"y":-0.53},{"s":"40","x":313.3,"y":-0.53},{"s":"40","x":315.8,"y":-0.60},{"s":"40","x":318.3,"y":-0.53},{"s":"40","x":320,"y":-0.46},
{"s":"60","x":220,"y":0.66},{"s":"60","x":222.7,"y":0.80},{"s":"60","x":224.6,"y":1.06},{"s":"60","x":226.5,"y":1.19},{"s":"60","x":228.4,"y":1.46},{"s":"60","x":230.3,"y":1.79},{"s":"60","x":232.1,"y":1.99},{"s":"60","x":234.0,"y":2.12},{"s":"60","x":235.9,"y":2.32},{"s":"60","x":237.2,"y":2.39},{"s":"60","x":238.4,"y":2.12},{"s":"60","x":239.7,"y":1.59},{"s":"60","x":240.9,"y":1.33},{"s":"60","x":242.8,"y":1.46},{"s":"60","x":244.7,"y":1.33},{"s":"60","x":246.6,"y":1.33},{"s":"60","x":248.5,"y":1.26},{"s":"60","x":250.4,"y":1.46},{"s":"60","x":252.3,"y":1.53},{"s":"60","x":254.2,"y":1.19},{"s":"60","x":256.0,"y":1.06},{"s":"60","x":257.9,"y":0.93},{"s":"60","x":259.8,"y":0.93},{"s":"60","x":261.7,"y":0.80},{"s":"60","x":263.6,"y":0.60},{"s":"60","x":266.7,"y":0.40},{"s":"60","x":269.2,"y":0.27},{"s":"60","x":271.8,"y":0.13},{"s":"60","x":274.3,"y":0.00},{"s":"60","x":276.8,"y":-0.20},{"s":"60","x":279.3,"y":-0.20},{"s":"60","x":281.8,"y":-0.40},{"s":"60","x":284.3,"y":-0.46},{"s":"60","x":286.9,"y":-0.66},{"s":"60","x":289.4,"y":-0.80},{"s":"60","x":291.9,"y":-0.86},{"s":"60","x":294.4,"y":-0.86},{"s":"60","x":296.9,"y":-0.86},{"s":"60","x":299.4,"y":-0.93},{"s":"60","x":301.9,"y":-1.00},{"s":"60","x":304.5,"y":-0.86},{"s":"60","x":307.0,"y":-0.73},{"s":"60","x":309.5,"y":-0.60},{"s":"60","x":312.0,"y":-0.40},{"s":"60","x":314.5,"y":-0.27},{"s":"60","x":317.0,"y":-0.40},{"s":"60","x":320,"y":-0.27},
{"s":"80","x":220,"y":0.80},{"s":"80","x":221.4,"y":1.19},{"s":"80","x":223.3,"y":1.33},{"s":"80","x":224.6,"y":1.59},{"s":"80","x":226.5,"y":1.86},{"s":"80","x":228.4,"y":2.26},{"s":"80","x":230.3,"y":2.92},{"s":"80","x":232.1,"y":3.59},{"s":"80","x":234.0,"y":4.38},{"s":"80","x":235.3,"y":4.58},{"s":"80","x":236.5,"y":4.25},{"s":"80","x":238.4,"y":3.72},{"s":"80","x":240.3,"y":3.32},{"s":"80","x":242.2,"y":2.66},{"s":"80","x":244.1,"y":2.39},{"s":"80","x":246.0,"y":2.26},{"s":"80","x":247.9,"y":2.19},{"s":"80","x":249.7,"y":2.12},{"s":"80","x":251.6,"y":2.32},{"s":"80","x":253.5,"y":2.26},{"s":"80","x":255.4,"y":1.99},{"s":"80","x":257.3,"y":1.86},{"s":"80","x":259.2,"y":1.46},{"s":"80","x":261.1,"y":1.06},{"s":"80","x":263.0,"y":0.80},{"s":"80","x":264.8,"y":0.55},{"s":"80","x":266.7,"y":0.33},{"s":"80","x":269.2,"y":0.13},{"s":"80","x":271.8,"y":0.00},{"s":"80","x":274.3,"y":-0.27},{"s":"80","x":276.8,"y":-0.40},{"s":"80","x":279.3,"y":-0.60},{"s":"80","x":281.8,"y":-0.80},{"s":"80","x":284.3,"y":-0.93},{"s":"80","x":286.9,"y":-1.19},{"s":"80","x":289.4,"y":-1.46},{"s":"80","x":291.9,"y":-1.53},{"s":"80","x":294.4,"y":-1.53},{"s":"80","x":296.9,"y":-1.46},{"s":"80","x":299.4,"y":-1.53},{"s":"80","x":301.9,"y":-1.46},{"s":"80","x":304.5,"y":-1.19},{"s":"80","x":307.0,"y":-0.93},{"s":"80","x":309.5,"y":-0.66},{"s":"80","x":312.0,"y":-0.40},{"s":"80","x":314.5,"y":-0.27},{"s":"80","x":317.0,"y":-0.13},{"s":"80","x":320,"y":0.00},
{"s":"100","x":220,"y":0.53},{"s":"100","x":222.1,"y":1.06},{"s":"100","x":224.0,"y":1.59},{"s":"100","x":225.2,"y":2.39},{"s":"100","x":227.1,"y":3.05},{"s":"100","x":228.4,"y":3.19},{"s":"100","x":229.6,"y":4.52},{"s":"100","x":230.9,"y":5.31},{"s":"100","x":232.8,"y":5.58},{"s":"100","x":234.0,"y":6.11},{"s":"100","x":235.3,"y":6.64},{"s":"100","x":236.5,"y":6.24},{"s":"100","x":237.8,"y":5.84},{"s":"100","x":239.1,"y":5.05},{"s":"100","x":240.3,"y":4.52},{"s":"100","x":241.6,"y":3.85},{"s":"100","x":243.5,"y":3.85},{"s":"100","x":245.3,"y":3.98},{"s":"100","x":247.2,"y":3.72},{"s":"100","x":249.1,"y":3.72},{"s":"100","x":250.4,"y":3.85},{"s":"100","x":252.3,"y":3.45},{"s":"100","x":254.2,"y":3.19},{"s":"100","x":256.0,"y":2.79},{"s":"100","x":257.9,"y":2.52},{"s":"100","x":259.8,"y":2.12},{"s":"100","x":261.1,"y":1.59},{"s":"100","x":263.0,"y":1.20},{"s":"100","x":264.8,"y":0.80},{"s":"100","x":266.7,"y":0.40},{"s":"100","x":269.2,"y":0.13},{"s":"100","x":271.8,"y":-0.13},{"s":"100","x":274.3,"y":-0.27},{"s":"100","x":276.8,"y":-0.66},{"s":"100","x":279.3,"y":-1.06},{"s":"100","x":281.8,"y":-1.46},{"s":"100","x":284.3,"y":-1.59},{"s":"100","x":286.9,"y":-1.86},{"s":"100","x":289.4,"y":-1.86},{"s":"100","x":291.9,"y":-1.93},{"s":"100","x":294.4,"y":-1.99},{"s":"100","x":296.9,"y":-1.93},{"s":"100","x":299.4,"y":-2.06},{"s":"100","x":301.9,"y":-1.99},{"s":"100","x":304.5,"y":-1.59},{"s":"100","x":307.0,"y":-1.06},{"s":"100","x":309.5,"y":-0.66},{"s":"100","x":312.0,"y":-0.27},{"s":"100","x":314.5,"y":-0.13},{"s":"100","x":317.0,"y":0.00},{"s":"100","x":320,"y":0.27},
{"s":"120","x":220,"y":0.40},{"s":"120","x":221.4,"y":0.93},{"s":"120","x":223.3,"y":1.46},{"s":"120","x":224.6,"y":2.52},{"s":"120","x":225.8,"y":3.72},{"s":"120","x":227.1,"y":4.52},{"s":"120","x":228.4,"y":5.31},{"s":"120","x":229.6,"y":6.24},{"s":"120","x":230.9,"y":7.17},{"s":"120","x":232.1,"y":7.97},{"s":"120","x":233.4,"y":8.37},{"s":"120","x":235.0,"y":8.83},{"s":"120","x":235.9,"y":8.23},{"s":"120","x":237.2,"y":7.57},{"s":"120","x":239.1,"y":6.51},{"s":"120","x":240.3,"y":5.44},{"s":"120","x":242.2,"y":4.91},{"s":"120","x":244.1,"y":4.78},{"s":"120","x":246.0,"y":4.58},{"s":"120","x":247.9,"y":4.52},{"s":"120","x":249.7,"y":4.65},{"s":"120","x":251.6,"y":4.65},{"s":"120","x":253.5,"y":4.25},{"s":"120","x":255.4,"y":3.85},{"s":"120","x":257.3,"y":3.45},{"s":"120","x":258.6,"y":2.79},{"s":"120","x":259.8,"y":2.52},{"s":"120","x":261.1,"y":1.99},{"s":"120","x":263.0,"y":1.20},{"s":"120","x":264.8,"y":0.60},{"s":"120","x":266.7,"y":0.27},{"s":"120","x":269.2,"y":0.00},{"s":"120","x":271.8,"y":-0.40},{"s":"120","x":274.3,"y":-0.66},{"s":"120","x":276.8,"y":-0.80},{"s":"120","x":279.3,"y":-1.46},{"s":"120","x":281.8,"y":-1.59},{"s":"120","x":284.3,"y":-1.73},{"s":"120","x":286.2,"y":-2.12},{"s":"120","x":288.1,"y":-2.52},{"s":"120","x":290.0,"y":-2.66},{"s":"120","x":291.9,"y":-2.79},{"s":"120","x":294.4,"y":-2.85},{"s":"120","x":296.9,"y":-2.79},{"s":"120","x":299.4,"y":-2.66},{"s":"120","x":301.9,"y":-2.39},{"s":"120","x":304.5,"y":-1.99},{"s":"120","x":307.0,"y":-1.59},{"s":"120","x":309.5,"y":-1.19},{"s":"120","x":311.4,"y":-0.66},{"s":"120","x":313.3,"y":-0.27},{"s":"120","x":315.8,"y":-0.13},{"s":"120","x":318.3,"y":0.00},{"s":"120","x":320,"y":0.27}
]
},
"spacing": 34,
"align": "none",
"resolve": {"scale": {"color": "independent"}, "legend": {"color": "independent"}},
"vconcat": [
{
  "width": 476, "height": 348,
  "data": {"name": "a"},
  "title": {"text": "(A)", "anchor": "start", "frame": "bounds", "fontSize": 21, "dx": -18, "offset": -27},
  "mark": {"type": "line", "strokeWidth": 4.5, "clip": true},
  "encoding": {
    "x": {"field": "x", "type": "quantitative", "scale": {"domain": [220, 300], "range": [20, 476], "nice": false, "zero": false},
      "axis": {"values": [220,230,240,250,260,270,280,290,300], "title": "Wavelength [nm]", "grid": false, "labelFontSize": 13, "titleFontSize": 15, "tickSize": 5, "labelPadding": 10, "titlePadding": 12}},
    "y": {"field": "y", "type": "quantitative", "scale": {"domain": [-5, 4], "nice": false, "zero": false},
      "axis": {"values": [-5,-4,-3,-2,-1,0,1,2,3,4], "title": "CD [mdeg]", "grid": true, "offset": -20, "labelFontSize": 13, "titleFontSize": 15, "tickSize": 5, "labelPadding": 8, "minExtent": 30, "maxExtent": 30, "titlePadding": 4}},
    "color": {"field": "s", "type": "nominal", "scale": {"domain": ["ctDNA"], "range": ["#231f20"]},
      "legend": {"orient": "none", "legendX": 523, "legendY": 188, "title": null, "symbolType": "stroke", "symbolSize": 1024, "symbolStrokeWidth": 4, "labelFontSize": 12.5, "labelOffset": 1}}
  }
},
{
  "spacing": 15,
  "align": "none",
  "resolve": {"scale": {"color": "independent"}, "legend": {"color": "independent"}},
  "vconcat": [
  {
    "width": 495, "height": 394,
    "data": {"name": "b"},
    "title": {"text": "(B)", "anchor": "start", "frame": "bounds", "fontSize": 21, "dx": 2, "offset": 1},
    "encoding": {
      "x": {"field": "x", "type": "quantitative", "scale": {"domain": [220, 320], "range": [17, 495], "nice": false, "zero": false},
        "axis": {"values": [220,230,240,250,260,270,280,290,300,310,320], "title": "Wavelength (nm)", "grid": false, "labelFontSize": 21, "titleFontSize": 20.5, "tickSize": 9, "labelPadding": 15, "titlePadding": 16}},
      "y": {"field": "y", "type": "quantitative", "scale": {"domain": [-6, 6], "nice": false, "zero": false},
        "axis": {"values": [-6,-4,-2,0,2,4,6], "title": "CD signal", "grid": true, "offset": -17, "labelFontSize": 21, "titleFontSize": 18, "tickSize": 9, "labelPadding": 14, "minExtent": 47, "maxExtent": 47, "titlePadding": 6}},
      "color": {"field": "s", "type": "nominal",
        "scale": {"domain": ["ctDNA","5","10","20","40","60","80","100","120"], "range": ["#231f20","#ee2a2e","#f47a2c","#c64fa1","#188244","#b0dcae","#2f8a9b","#6ea7dc","#34499f"]},
        "legend": {"orient": "none", "legendX": 544, "legendY": 0, "title": null, "symbolType": "stroke", "symbolSize": 1849, "symbolStrokeWidth": 3.5, "symbolDash": [9, 4], "labelFontSize": 21.5, "labelOffset": 0, "labelLimit": 400, "rowPadding": 11,
          "labelExpr": "datum.label == 'ctDNA' ? '\u00a0ctDNA' : (datum.label == '10' ? '\u00a0ctDNA + 10 µM Dau' : 'ctDNA + ' + datum.label + ' µM Dau')"}}
    },
    "layer": [
      {"transform": [{"filter": "datum.s == 'ctDNA'"}], "mark": {"type": "line", "strokeWidth": 4.5, "clip": true}},
      {"transform": [{"filter": "datum.s != 'ctDNA'"}], "mark": {"type": "line", "strokeWidth": 3.5, "strokeDash": [9, 5], "clip": true}}
    ]
  },
  {
    "width": 530, "height": 401,
    "data": {"name": "c"},
    "title": {"text": "(C)", "anchor": "start", "frame": "bounds", "fontSize": 21, "dx": 1, "offset": 1},
    "encoding": {
      "x": {"field": "x", "type": "quantitative", "scale": {"domain": [220, 320], "nice": false, "zero": false},
        "axis": {"values": [220,230,240,250,260,270,280,290,300,310,320], "title": "Wavelength (nm)", "grid": false, "labelFontSize": 14, "titleFontSize": 16, "tickSize": 6, "labelPadding": 10, "titlePadding": 19}},
      "y": {"field": "y", "type": "quantitative", "scale": {"domain": [-6, 10], "nice": false, "zero": false},
        "axis": {"values": [-6,-4,-2,0,2,4,6,8,10], "title": "CD signal", "grid": true, "labelFontSize": 14, "titleFontSize": 16, "tickSize": 5, "labelPadding": 10, "minExtent": 32, "maxExtent": 32, "titlePadding": 5}},
      "color": {"field": "s", "type": "nominal",
        "scale": {"domain": ["ctDNA","5","10","20","40","60","80","100","120"], "range": ["#231f20","#ee2a2e","#f47a2c","#c64fa1","#188244","#b0dcae","#2f8a9b","#6ea7dc","#34499f"]},
        "legend": {"orient": "none", "legendX": 557, "legendY": 42, "title": null, "symbolType": "stroke", "symbolSize": 1369, "symbolStrokeWidth": 3, "symbolDash": [8, 4], "labelFontSize": 19.5, "labelOffset": 0, "labelLimit": 400, "rowPadding": 10.2,
          "labelExpr": "datum.label == 'ctDNA' ? '\u00a0ctDNA' : (datum.label == '10' ? '\u00a0ctDNA + 10 µM Dau-Arg₆' : 'ctDNA + ' + datum.label + ' µM Dau-Arg₆')"}}
    },
    "layer": [
      {"transform": [{"filter": "datum.s == 'ctDNA'"}], "mark": {"type": "line", "strokeWidth": 4.5, "clip": true}},
      {"transform": [{"filter": "datum.s != 'ctDNA'"}], "mark": {"type": "line", "strokeWidth": 3, "strokeDash": [8, 4.5], "clip": true}}
    ]
  }
  ]
}
]
}
